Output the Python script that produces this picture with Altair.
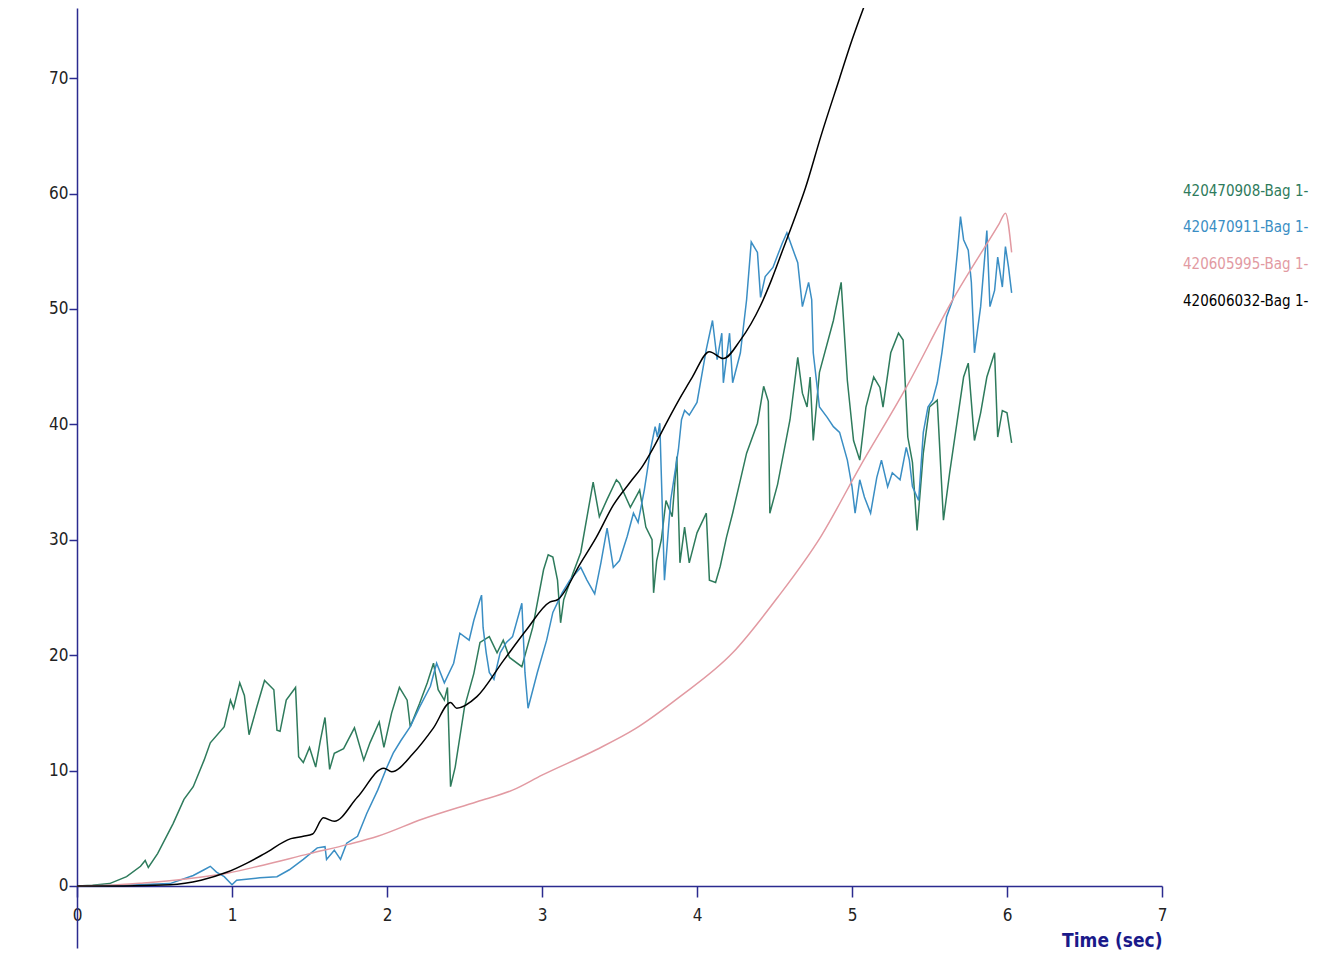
import altair as alt
import pandas as pd

series_names = ["420470908-Bag 1-", "420470911-Bag 1-", "420605995-Bag 1-", "420606032-Bag 1-"]
series_colors = ["#2e7b5c", "#3a8ec4", "#e29aa2", "#000000"]
series_widths = [1.5, 1.5, 1.5, 2.0]

x_ticks = [0, 1, 2, 3, 4, 5, 6, 7]
y_ticks = [0, 10, 20, 30, 40, 50, 60, 70]

green_t = [0, 0.1, 0.21, 0.32, 0.41, 0.44, 0.46, 0.52, 0.62, 0.69, 0.75, 0.82, 0.86, 0.95, 0.99, 1.01,
           1.05, 1.08, 1.11, 1.16, 1.21, 1.27, 1.29, 1.31, 1.35, 1.41, 1.43, 1.46, 1.5, 1.54, 1.57, 1.6,
           1.63, 1.66, 1.72, 1.79, 1.85, 1.89, 1.95, 1.98, 2.03, 2.08, 2.13, 2.15, 2.21, 2.26, 2.3, 2.33,
           2.37, 2.39, 2.41, 2.44, 2.5, 2.56, 2.6, 2.66, 2.71, 2.75, 2.79, 2.87, 2.94, 3.01, 3.04, 3.07,
           3.1, 3.12, 3.14, 3.2, 3.25, 3.33, 3.37, 3.42, 3.48, 3.5, 3.57, 3.63, 3.67, 3.71, 3.72, 3.74,
           3.77, 3.8, 3.84, 3.87, 3.89, 3.92, 3.95, 4.0, 4.06, 4.08, 4.12, 4.15, 4.19, 4.23, 4.32, 4.39,
           4.43, 4.46, 4.47, 4.52, 4.6, 4.65, 4.68, 4.71, 4.73, 4.75, 4.79, 4.88, 4.93, 4.97, 5.01, 5.05,
           5.09, 5.14, 5.18, 5.2, 5.25, 5.3, 5.33, 5.36, 5.39, 5.42, 5.46, 5.5, 5.55, 5.59, 5.63, 5.68,
           5.72, 5.75, 5.79, 5.83, 5.87, 5.92, 5.94, 5.97, 6.0, 6.03]
green_v = [0, 0.05, 0.2, 0.8, 1.7, 2.2, 1.6, 2.8, 5.4, 7.5, 8.6, 10.9, 12.4, 13.8, 16.1, 15.4,
           17.6, 16.5, 13.1, 15.5, 17.8, 17.0, 13.5, 13.4, 16.1, 17.2, 11.2, 10.7, 12.0, 10.3, 12.6, 14.6,
           10.1, 11.5, 11.9, 13.7, 10.9, 12.4, 14.2, 12.0, 15.0, 17.2, 16.1, 13.8, 15.8, 17.6, 19.3, 17.0,
           16.1, 17.2, 8.6, 10.3, 15.5, 18.4, 21.1, 21.6, 20.2, 21.3, 19.8, 19.0, 22.4, 27.4, 28.7, 28.5,
           26.5, 22.8, 24.8, 27.1, 28.9, 35.0, 32.0, 33.5, 35.2, 34.9, 32.8, 34.3, 31.1, 30.0, 25.4, 28.2,
           30.0, 33.4, 32.0, 37.2, 28.0, 31.1, 28.0, 30.6, 32.3, 26.5, 26.3, 27.7, 30.2, 32.3, 37.5, 40.1,
           43.3, 42.0, 32.3, 34.8, 40.4, 45.8, 42.7, 41.5, 44.1, 38.6, 44.5, 49.0, 52.3, 43.8, 38.6, 36.9,
           41.5, 44.1, 43.2, 41.5, 46.2, 47.9, 47.3, 38.9, 36.7, 30.8, 37.5, 41.5, 42.1, 31.7, 35.8, 40.4,
           44.1, 45.3, 38.6, 41.0, 44.1, 46.2, 38.9, 41.2, 41.0, 38.4]

blue_t = [0, 0.3, 0.6, 0.75, 0.82, 0.86, 0.9, 0.95, 1.0, 1.03, 1.18, 1.29, 1.37, 1.46, 1.55, 1.6,
          1.61, 1.66, 1.7, 1.74, 1.81, 1.87, 1.94, 2.0, 2.04, 2.09, 2.15, 2.21, 2.28, 2.32, 2.37, 2.43,
          2.47, 2.53, 2.56, 2.6, 2.61, 2.62, 2.64, 2.66, 2.69, 2.73, 2.77, 2.81, 2.87, 2.89, 2.91, 2.97,
          3.03, 3.07, 3.13, 3.18, 3.25, 3.29, 3.34, 3.38, 3.42, 3.46, 3.5, 3.55, 3.59, 3.62, 3.66, 3.7,
          3.73, 3.745, 3.76, 3.79, 3.83, 3.88, 3.9, 3.92, 3.95, 4.0, 4.06, 4.1, 4.13, 4.16, 4.17, 4.21,
          4.23, 4.28, 4.32, 4.35, 4.39, 4.41, 4.44, 4.49, 4.55, 4.58, 4.62, 4.65, 4.68, 4.72, 4.74, 4.75,
          4.79, 4.84, 4.88, 4.92, 4.97, 5.0, 5.02, 5.05, 5.08, 5.12, 5.16, 5.19, 5.23, 5.26, 5.31, 5.35,
          5.37, 5.39, 5.43, 5.46, 5.49, 5.52, 5.55, 5.58, 5.61, 5.65, 5.68, 5.7, 5.72, 5.75, 5.77, 5.79,
          5.83, 5.86, 5.87, 5.89, 5.92, 5.94, 5.97, 5.99, 6.01, 6.03]
blue_v = [0, 0.05, 0.2, 0.9, 1.4, 1.7, 1.2, 0.8, 0.1, 0.5, 0.7, 0.8, 1.4, 2.3, 3.3, 3.4,
          2.3, 3.1, 2.3, 3.7, 4.3, 6.3, 8.3, 10.3, 11.5, 12.6, 13.8, 15.5, 17.3, 19.3, 17.6, 19.3,
          21.9, 21.3, 23.0, 24.8, 25.2, 22.4, 20.2, 18.5, 17.9, 20.2, 21.1, 21.6, 24.5, 18.5, 15.4, 18.5,
          21.3, 23.7, 25.4, 26.5, 27.6, 26.5, 25.3, 28.0, 31.0, 27.6, 28.2, 30.3, 32.3, 31.5, 34.3, 37.8,
          39.8, 38.9, 40.1, 26.5, 33.4, 37.8, 40.4, 41.2, 40.8, 41.9, 46.5, 49.0, 45.6, 47.9, 43.6, 47.9,
          43.6, 46.2, 50.8, 55.8, 54.9, 51.0, 52.8, 53.6, 55.7, 56.6, 55.1, 54.0, 50.2, 52.3, 50.8, 46.2,
          41.5, 40.6, 39.8, 39.3, 36.9, 34.6, 32.3, 35.2, 33.7, 32.3, 35.4, 36.9, 34.6, 35.8, 35.2, 38.0,
          36.9, 34.6, 33.4, 39.3, 41.5, 42.1, 43.6, 46.2, 49.3, 50.8, 54.9, 58.0, 56.0, 55.1, 52.3, 46.2,
          50.2, 55.1, 56.8, 50.2, 51.6, 54.5, 51.9, 55.4, 53.6, 51.4]

pink_t = [0, 0.2, 0.43, 0.7, 0.97, 1.2, 1.5, 1.75, 1.94, 2.23, 2.58, 2.81, 3.0, 3.35, 3.6, 3.89,
          4.23, 4.52, 4.8, 5.05, 5.35, 5.65, 5.95, 5.99, 6.03]
pink_v = [0, 0.05, 0.26, 0.6, 1.1, 1.8, 2.8, 3.6, 4.3, 5.8, 7.3, 8.3, 9.6, 11.8, 13.6, 16.4,
          20.2, 25.0, 30.3, 36.3, 43.2, 50.8, 57.4, 58.3, 54.9]

black_t = [0, 0.3, 0.6, 0.8, 0.97, 1.1, 1.21, 1.38, 1.46, 1.52, 1.59, 1.66, 1.81, 1.98, 2.03, 2.17,
           2.3, 2.41, 2.45, 2.58, 2.75, 2.9, 3.05, 3.1, 3.25, 3.35, 3.46, 3.57, 3.65, 3.72, 3.81, 3.9,
           3.97, 4.08, 4.17, 4.28, 4.41, 4.48, 4.55, 4.62, 4.7, 4.8, 4.92, 5.0, 5.1]
black_v = [0, 0.0, 0.1, 0.5, 1.2, 2.0, 2.8, 4.1, 4.3, 4.5, 5.9, 5.6, 7.7, 10.2, 9.9, 11.5,
           13.7, 15.9, 15.4, 16.4, 19.5, 22.2, 24.6, 24.8, 28.0, 30.2, 33.0, 35.0, 36.4, 38.0, 40.3, 42.5,
           44.1, 46.3, 45.7, 47.3, 50.3, 52.5, 55.0, 57.5, 60.5, 65.0, 70.0, 73.3, 77.0]


def frame(names, ts_list, vs_list):
    rows = []
    for name, ts, vs in zip(names, ts_list, vs_list):
        for i, (t, v) in enumerate(zip(ts, vs)):
            rows.append({"series": name, "t": t, "v": v, "i": i})
    return pd.DataFrame(rows)


noisy_df = frame(series_names[:2], [green_t, blue_t], [green_v, blue_v])
smooth_df = frame(series_names[2:], [pink_t, black_t], [pink_v, black_v])

FONT = "DejaVu Sans Condensed"
NAVY = "#2b2b8f"

x_enc = alt.X("t:Q",
              scale=alt.Scale(domain=[0, 7], nice=False, zero=False),
              axis=alt.Axis(values=x_ticks, format="d", offset=-62, tickSize=11, tickColor=NAVY,
                            domainColor=NAVY, domainWidth=1.5, tickWidth=1.5, grid=False,
                            labelFont=FONT, labelFontSize=17, labelColor="#222222", labelPadding=10,
                            labelFlush=False,
                            title="Time (sec)", titleFont=FONT, titleFontSize=19, titleFontWeight="bold",
                            titleColor="#1a1a8a", titleX=1085, titleY=64, titleAlign="right",
                            titleBaseline="bottom"))
y_enc = alt.Y("v:Q",
              scale=alt.Scale(domain=[-5.38, 76.08], nice=False, zero=False),
              axis=alt.Axis(values=y_ticks, format="d", tickSize=8, tickColor=NAVY, domainColor=NAVY,
                            domainWidth=1.5, tickWidth=1.5, grid=False, labelFont=FONT, labelFontSize=17,
                            labelColor="#222222", labelPadding=1, title=None))
color_enc = alt.Color("series:N",
                      scale=alt.Scale(domain=series_names, range=series_colors),
                      legend=alt.Legend(title=None, orient="none", legendX=1091, legendY=175,
                                        padding=0, symbolSize=0, symbolOpacity=0, symbolStrokeWidth=0,
                                        labelOffset=0, rowPadding=20.7, labelFont=FONT, labelFontSize=15,
                                        labelLimit=400,
                                        labelColor=alt.ExprRef("scale('color', datum.value)")))
width_enc = alt.StrokeWidth("series:N",
                            scale=alt.Scale(domain=series_names, range=series_widths),
                            legend=None)

noisy = alt.Chart(noisy_df).mark_line(clip=True).encode(
    x=x_enc, y=y_enc, color=color_enc, strokeWidth=width_enc, order="i:Q")
smooth = alt.Chart(smooth_df).mark_line(clip=True, interpolate="monotone").encode(
    x=x_enc, y=y_enc, color=color_enc, strokeWidth=width_enc, order="i:Q")

chart = alt.layer(noisy, smooth).properties(
    width=1085, height=940,
    padding={"left": 69, "top": 0, "right": 150, "bottom": 2},
    autosize=alt.AutoSizeParams(type="none"),
    background="white",
).configure_view(stroke=None)

chart.save("out.html", embed_options={"renderer": "svg", "actions": False})
